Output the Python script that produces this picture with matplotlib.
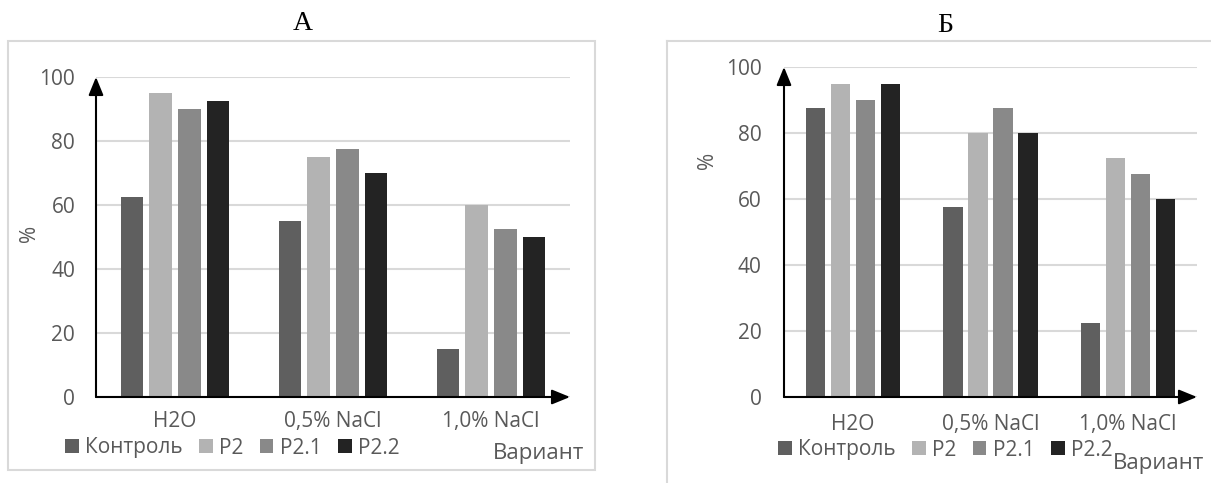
import matplotlib
matplotlib.use("Agg")
import matplotlib.pyplot as plt
from matplotlib.patches import Rectangle
from matplotlib.lines import Line2D
import numpy as np

plt.rcParams['font.family'] = ['Open Sans', 'DejaVu Sans']

# ---- data -------------------------------------------------------------
categories = ['H2O', '0,5% NaCl', '1,0% NaCl']
series = ['Контроль', 'P2', 'P2.1', 'P2.2']
colors = ['#5f5f5f', '#b3b3b3', '#898989', '#232323']

vals_a = {
    'Контроль': [62.5, 55, 15],
    'P2':       [95, 75, 60],
    'P2.1':     [90, 77.5, 52.5],
    'P2.2':     [92.5, 70, 50],
}
vals_b = {
    'Контроль': [87.5, 57.5, 22.5],
    'P2':       [95, 80, 72.5],
    'P2.1':     [90, 87.5, 67.5],
    'P2.2':     [95, 80, 60],
}
yticks = [0, 20, 40, 60, 80, 100]

W, H = 1211, 483
TXT = '#595959'
GRID = '#d9d9d9'
FS = 15

fig = plt.figure(figsize=(W / 100, H / 100), dpi=100)


def fx(px):
    return px / W


def fy(py):
    return 1 - py / H


def panel(box, data, xpad, ypad):
    l, t, r, b = box
    ax = fig.add_axes([fx(l), fy(b), fx(r - l), fy(t) - fy(b)])
    x = np.arange(len(categories))
    step, width = 0.182, 0.141
    for i, s in enumerate(series):
        ax.bar(x + (i - 1.5) * step, data[s], width, color=colors[i],
               label=s, zorder=2)
    ax.set_xlim(-0.5, len(categories) - 0.5)
    ax.set_ylim(0, 100)
    ax.set_yticks(yticks)
    ax.set_xticks(x, categories)
    ax.yaxis.grid(True, color=GRID, lw=1.5)
    ax.set_axisbelow(True)
    for sp in ax.spines.values():
        sp.set_visible(False)
    ax.tick_params(axis='both', length=0, labelsize=FS, labelcolor=TXT)
    ax.tick_params(axis='x', pad=xpad)
    ax.tick_params(axis='y', pad=ypad)
    # axes drawn as arrows
    head = '-|>,head_length=11,head_width=4.5'
    ax.annotate('', xy=(0, 1), xytext=(0, 0), xycoords='axes fraction',
                arrowprops=dict(arrowstyle=head, color='black', lw=1.5,
                                mutation_scale=1, shrinkA=0, shrinkB=0))
    ax.annotate('', xy=(1, 0), xytext=(0, 0), xycoords='axes fraction',
                arrowprops=dict(arrowstyle=head, color='black', lw=1.5,
                                mutation_scale=1, shrinkA=0, shrinkB=0))
    return ax


def legend(ax, x0, y0):
    h, lb = ax.get_legend_handles_labels()
    fig.legend(h, lb, loc='center left', bbox_to_anchor=(fx(x0), fy(y0)),
               ncol=4, frameon=False, fontsize=FS, labelcolor=TXT,
               handlelength=0.65, handleheight=0.65, handletextpad=0.3,
               columnspacing=0.8, borderpad=0, borderaxespad=0)


# ---- panel A ----------------------------------------------------------
fig.patches.append(Rectangle((fx(8), fy(470)), fx(595 - 8), fy(41) - fy(470),
                             transform=fig.transFigure, fill=False,
                             edgecolor=GRID, lw=1.5))
ax_a = panel((96, 77, 570, 397), vals_a, 10, 15)
fig.text(fx(303), fy(24), 'А', ha='center', va='center', fontsize=20,
         family='Liberation Serif')
fig.text(fx(29), fy(233), '%', ha='center', va='center', rotation=90,
         fontsize=FS, color=TXT)
fig.text(fx(584), fy(454), 'Вариант', ha='right', va='center',
         fontsize=16, color=TXT)
legend(ax_a, 65, 448)

# ---- panel Б ----------------------------------------------------------
fig.add_artist(Line2D([fx(667), 1], [fy(41), fy(41)], color=GRID, lw=1.5))
fig.add_artist(Line2D([fx(667), fx(667)], [fy(41), 0], color=GRID, lw=1.5))
ax_b = panel((784, 67, 1197, 397), vals_b, 12, 16)
fig.text(fx(945), fy(25), 'Б', ha='center', va='center', fontsize=20,
         family='Liberation Serif')
fig.text(fx(707), fy(160), '%', ha='center', va='center', rotation=90,
         fontsize=FS, color=TXT)
fig.text(fx(1204), fy(464), 'Вариант', ha='right', va='center',
         fontsize=16, color=TXT)
legend(ax_b, 778, 450)

fig.savefig('out.png', dpi=100)
